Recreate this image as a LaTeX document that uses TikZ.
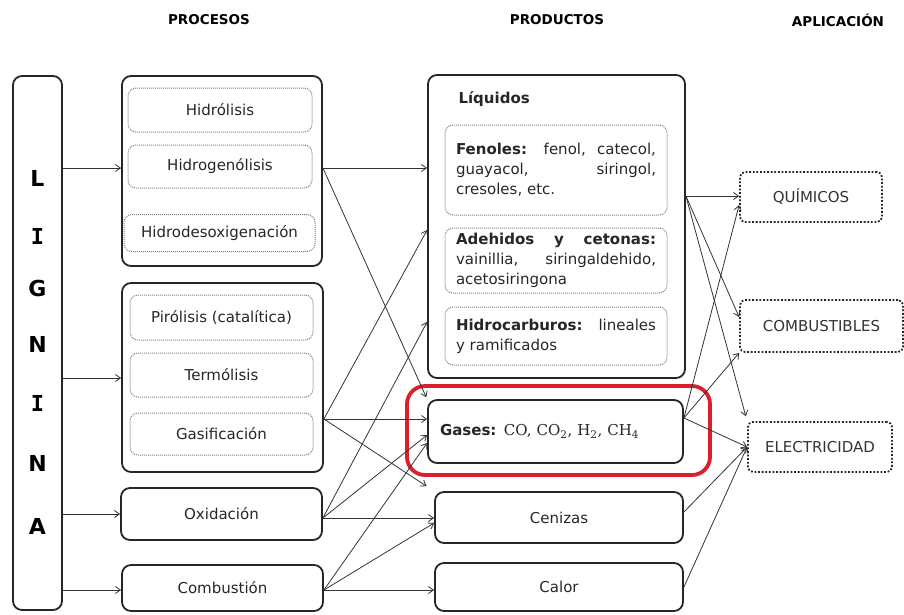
\documentclass[tikz,border=0pt]{standalone}
\usepackage{fontspec}
\setmainfont{DejaVu Sans}
\newfontfamily\chemfont{DejaVu Serif}
\newfontfamily\slabfont{DejaVu Sans Mono}
\usetikzlibrary{arrows.meta}

\definecolor{markred}{RGB}{218,32,42}

\tikzset{
  frame/.style={draw=black!85, line width=1.8pt, rounded corners=9pt, inner sep=0pt},
  subbox/.style={draw=black!50, line width=1pt, dash pattern=on 1pt off 1pt,
    rounded corners=8pt, inner sep=0pt},
  appbox/.style={draw=black!85, line width=1.8pt, dash pattern=on 1.8pt off 1.8pt,
    rounded corners=5pt, inner sep=0pt, font=\fontsize{15}{18}\selectfont, text=black!80},
  lbl/.style={font=\fontsize{15}{18}\selectfont, text=black!85},
  para/.style={font=\fontsize{15}{20}\selectfont, text=black!85, text width=200pt,
    align=justify, inner xsep=11pt, inner ysep=0pt},
  head/.style={font=\bfseries\fontsize{13.5}{15}\selectfont},
  letter/.style={font=\bfseries\fontsize{22}{24}\selectfont},
  flow/.style={draw=black!80, line width=0.8pt, -{Straight Barb[length=5pt,width=7pt]}},
  hl/.style={draw=markred, line width=3.8pt, rounded corners=18pt, inner sep=0pt},
}

\begin{document}
\begin{tikzpicture}[x=1pt, y=-1pt]
\useasboundingbox (0,0) rectangle (904,614);

% column headings
\node[head] (hProc) at (209,20) {PROCESOS};
\node[head] (hProd) at (557,20) {PRODUCTOS};
\node[head] (hApl)  at (838,20) {APLICACIÓN};

% lignin column
\node[frame, minimum width=49pt, minimum height=534pt] (lig) at (37.5,343) {};
\node[letter] (l1) at (37.5,178) {L};
\node[letter] (l2) at (37.5,236) {\slabfont I};
\node[letter] (l3) at (37.5,288) {G};
\node[letter] (l4) at (37.5,344) {N};
\node[letter] (l5) at (37.5,403) {\slabfont I};
\node[letter] (l6) at (37.5,463) {N};
\node[letter] (l7) at (37.5,526) {A};

% processes
\node[frame, minimum width=200pt, minimum height=190pt] (p1) at (222,171) {};
\node[subbox, lbl, minimum width=184pt, minimum height=44pt] (hyd) at (220,110) {Hidrólisis};
\node[subbox, lbl, minimum width=184pt, minimum height=43pt] (hgn) at (220,166.5) {Hidrogenólisis};
\node[subbox, lbl, minimum width=191pt, minimum height=37pt] (hdo) at (219.5,233) {Hidrodesoxigenación};

\node[frame, minimum width=201pt, minimum height=189pt] (p2) at (222.5,377.5) {};
\node[subbox, lbl, minimum width=183pt, minimum height=45pt] (pir) at (221.5,317.5) {Pirólisis (catalítica)};
\node[subbox, lbl, minimum width=183pt, minimum height=44pt] (ter) at (221.5,375) {Termólisis};
\node[subbox, lbl, minimum width=183pt, minimum height=42pt] (gsf) at (221.5,434) {Gasificación};

\node[frame, lbl, minimum width=201pt, minimum height=52pt] (oxid) at (221.5,514) {Oxidación};
\node[frame, lbl, minimum width=201pt, minimum height=46pt] (comb) at (222.5,588) {Combustión};

% products
\node[frame, minimum width=257pt, minimum height=303pt] (liq) at (556.5,226.5) {};
\node[anchor=west, font=\bfseries\fontsize{15}{18}\selectfont, text=black!85] (liqT) at (455,99) {Líquidos};
\node[subbox, para, minimum height=90pt] (fen) at (556,170)
  {\textbf{Fenoles:} fenol, catecol,\linebreak guayacol, siringol,\linebreak cresoles, etc.};
\node[subbox, para, minimum height=65pt] (ald) at (556,260.5)
  {\textbf{Adehidos y cetonas:}\linebreak vainillia, siringaldehido,\linebreak acetosiringona};
\node[subbox, para, minimum height=58pt] (hcb) at (556,336)
  {\textbf{Hidrocarburos:} lineales\linebreak y ramificados};

\node[frame, lbl, text width=231pt, align=left, inner xsep=12pt, minimum height=63pt] (gas) at (555.5,431.5)
  {\textbf{Gases:} {\chemfont CO, CO\textsubscript{2}, H\textsubscript{2}, CH\textsubscript{4}}};
\node[hl, minimum width=303pt, minimum height=89pt] (mark) at (558.5,430.5) {};
\node[frame, lbl, minimum width=248pt, minimum height=51pt] (cen) at (559,517.5) {Cenizas};
\node[frame, lbl, minimum width=248pt, minimum height=48pt] (cal) at (559,587) {Calor};

% applications
\node[appbox, minimum width=142pt, minimum height=50pt] (qui) at (811,197) {QUÍMICOS};
\node[appbox, minimum width=163pt, minimum height=52pt] (cbs) at (821.5,326) {COMBUSTIBLES};
\node[appbox, minimum width=144pt, minimum height=50pt] (ele) at (820,447) {ELECTRICIDAD};

% lignin to processes
\draw[flow] (lig.east |- 0,168) -- (p1.west |- 0,168);
\draw[flow] (lig.east |- 0,378) -- (p2.west |- 0,378);
\draw[flow] (lig.east |- 0,514) -- (oxid.west |- 0,514);
\draw[flow] (lig.east |- 0,590) -- (comb.west |- 0,590);

% processes to products
\draw[flow] (p1.east |- 0,168) -- (liq.west |- 0,168);
\draw[flow, shorten >=2pt] (p1.east |- 0,168) -- (gas.north west);
\draw[flow] (p2.east |- 0,419) -- (liq.west |- 0,230);
\draw[flow] (p2.east |- 0,419) -- (gas.west |- 0,419);
\draw[flow, shorten >=9pt] (p2.east |- 0,419) -- (cen.north west);
\draw[flow] (oxid.east |- 0,518) -- (liq.west |- 0,322);
\draw[flow] (oxid.east |- 0,518) -- (gas.west |- 0,435);
\draw[flow] (oxid.east |- 0,518) -- (cen.west |- 0,518);
\draw[flow] (comb.east |- 0,590) -- (gas.west |- 0,443);
\draw[flow] (comb.east |- 0,590) -- (cen.west |- 0,523);
\draw[flow] (comb.east |- 0,590) -- (cal.west |- 0,590);

% products to applications
\draw[flow] (liq.east |- 0,196) -- (qui.west |- 0,196);
\draw[flow] (liq.east |- 0,196) -- (cbs.west |- 0,317);
\draw[flow, shorten >=5pt] (liq.east |- 0,196) -- (ele.north west);
\draw[flow] (gas.east |- 0,418) -- (qui.west |- 0,205);
\draw[flow] (gas.east |- 0,418) -- (cbs.south west);
\draw[flow] (gas.east |- 0,418) -- (ele.west);
\draw[flow] (cen.east |- 0,512) -- (ele.west);
\draw[flow] (cal.east |- 0,587) -- (ele.west);
\end{tikzpicture}
\end{document}
